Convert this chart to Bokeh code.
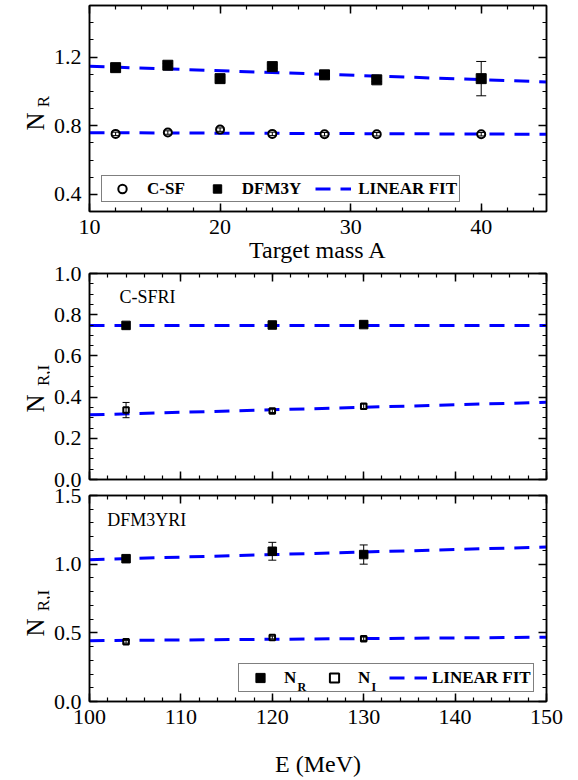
import math

from bokeh.embed import file_html
from bokeh.layouts import column, row
from bokeh.models import (ColumnDataSource, CustomJSTickFormatter, Label, Legend,
                          LegendItem, LinearAxis, NumeralTickFormatter, Range1d,
                          SingleIntervalTicker, TeeHead, Whisker)
from bokeh.plotting import figure
from bokeh.resources import INLINE

# ---- panel 1: real-part normalisation versus target mass ----
mass_a = [12, 16, 20, 24, 28, 32, 40]
csf_nr = [0.752, 0.760, 0.777, 0.752, 0.750, 0.750, 0.750]
csf_err = [0.010, 0.010, 0.010, 0.010, 0.010, 0.010, 0.010]
dfm_nr = [1.138, 1.152, 1.074, 1.144, 1.096, 1.067, 1.074]
dfm_err = [0.010, 0.010, 0.010, 0.010, 0.025, 0.010, 0.100]
fit_a = [10, 45]
fit_csf = [0.759, 0.750]
fit_dfm = [1.146, 1.055]

# ---- panels 2 and 3: N_R and N_I versus beam energy ----
energy = [104, 120, 130]
fit_e = [100, 150]

csfri_nr = [0.748, 0.750, 0.752]
csfri_nr_err = [0.010, 0.010, 0.010]
csfri_ni = [0.337, 0.333, 0.355]
csfri_ni_err = [0.037, 0.008, 0.012]
fit_csfri_nr = [0.748, 0.748]
fit_csfri_ni = [0.314, 0.375]

dfmri_nr = [1.040, 1.094, 1.070]
dfmri_nr_err = [0.020, 0.065, 0.070]
dfmri_ni = [0.435, 0.466, 0.457]
dfmri_ni_err = [0.010, 0.010, 0.012]
fit_dfmri_nr = [1.033, 1.125]
fit_dfmri_ni = [0.443, 0.468]

FONT = "Liberation Serif"
BLUE = "#0000ff"
DASH = "15 10"
TITLE_W = 50          # strip that holds the rotated y titles
FRAME_X0 = 88         # left edge of every plot frame
FRAME_W, FRAME_H = 457, 206
# rotation for the vertical titles (text reads bottom to top)
UPRIGHT = math.pi / 2


def style_axis(ax, interval, minor, labels=True, fmt=None):
    ax.ticker = SingleIntervalTicker(interval=interval, num_minor_ticks=minor)
    ax.axis_line_color = "black"
    ax.axis_line_width = 1.5
    ax.major_tick_in = 8
    ax.major_tick_out = 0
    ax.minor_tick_in = 4
    ax.minor_tick_out = 0
    ax.major_tick_line_width = 1.5
    ax.minor_tick_line_width = 1.2
    ax.major_tick_line_color = "black"
    ax.minor_tick_line_color = "black"
    ax.major_label_text_font = FONT
    ax.major_label_text_color = "black"
    if labels:
        if fmt:
            ax.formatter = NumeralTickFormatter(format=fmt)
        ax.major_label_text_font_size = "22px"
        ax.major_label_standoff = 8
    else:
        ax.formatter = CustomJSTickFormatter(code="return ''")
        ax.major_label_text_font_size = "0px"
        ax.major_label_standoff = 0


def make_panel(xr, yr, xint, xminor, yint, yminor, show_x, top, bottom):
    p = figure(frame_width=FRAME_W, frame_height=FRAME_H,
               x_range=Range1d(*xr), y_range=Range1d(*yr),
               output_backend="svg", toolbar_location=None,
               min_border_left=FRAME_X0 - TITLE_W,
               min_border_right=578 - FRAME_X0 - FRAME_W,
               min_border_top=top, min_border_bottom=bottom)
    p.grid.visible = False
    p.outline_line_color = "black"
    p.outline_line_width = 1.5
    p.background_fill_color = "white"
    p.border_fill_color = "white"
    bottom_ax = p.xaxis[0]
    style_axis(bottom_ax, xint, xminor, labels=show_x)
    style_axis(p.yaxis[0], yint, yminor, labels=True, fmt="0.0")
    top_ax = LinearAxis()
    style_axis(top_ax, xint, xminor, labels=False)
    p.add_layout(top_ax, "above")
    right_ax = LinearAxis()
    style_axis(right_ax, yint, yminor, labels=False)
    p.add_layout(right_ax, "right")
    return p, bottom_ax


def title_strip(p, top, y_main, y_sub, sub):
    """Narrow strip left of a panel carrying the vertical N with its subscript."""
    t = figure(frame_width=TITLE_W, frame_height=FRAME_H,
               x_range=Range1d(0, TITLE_W), y_range=p.y_range,
               output_backend="svg", toolbar_location=None,
               x_axis_location=None, y_axis_location=None,
               min_border_left=0, min_border_right=0,
               min_border_top=top, min_border_bottom=0)
    t.grid.visible = False
    t.outline_line_color = None
    t.background_fill_color = "white"
    t.border_fill_color = "white"
    t.add_layout(Label(x=35, y=y_main, text="N", angle=UPRIGHT,
                       text_align="center", text_baseline="alphabetic",
                       text_font=FONT, text_font_size="25px", text_color="black"))
    t.add_layout(Label(x=43, y=y_sub, text=sub, angle=UPRIGHT,
                       text_align="center", text_baseline="alphabetic",
                       text_font=FONT, text_font_size="17px", text_color="black"))
    return t


def error_bars(p, xs, ys, errs, cap=9):
    src = ColumnDataSource(dict(
        x=xs,
        upper=[y + e for y, e in zip(ys, errs)],
        lower=[y - e for y, e in zip(ys, errs)],
    ))
    w = Whisker(source=src, base="x", upper="upper", lower="lower",
                line_color="black", line_width=1, level="overlay",
                upper_head=TeeHead(size=cap, line_color="black", line_width=1),
                lower_head=TeeHead(size=cap, line_color="black", line_width=1))
    p.add_layout(w)


def style_legend(lg, glyph_w, glyph_h, standoff, spacing, label_w):
    lg.orientation = "horizontal"
    lg.label_text_font = FONT
    lg.label_text_font_style = "bold"
    lg.label_text_font_size = "17px"
    lg.label_text_color = "black"
    lg.glyph_width = glyph_w
    lg.glyph_height = glyph_h
    lg.label_height = glyph_h
    lg.label_width = label_w
    lg.label_standoff = standoff
    lg.spacing = spacing
    lg.padding = 2
    lg.margin = 0
    lg.border_line_color = "black"
    lg.border_line_width = 1
    lg.background_fill_alpha = 0.0


def axis_title(ax, text, size, standoff):
    ax.axis_label = text
    ax.axis_label_text_font = FONT
    ax.axis_label_text_font_size = size
    ax.axis_label_text_font_style = "normal"
    ax.axis_label_text_color = "black"
    ax.axis_label_standoff = standoff


TOP1, TOP2, TOP3 = 5, 8, 8

# ---------------- panel 1 ----------------
p1, bx1 = make_panel((10, 45), (0.3, 1.5), 10, 5, 0.4, 4, True, TOP1, 10)
axis_title(bx1, "Target mass A", "24px", 0)

l_fit1 = p1.line(fit_a, fit_csf, line_color=BLUE, line_width=3, line_dash=DASH)
p1.line(fit_a, fit_dfm, line_color=BLUE, line_width=3, line_dash=DASH)
r_csf = p1.scatter(mass_a, csf_nr, marker="circle", size=8, fill_color="white",
                   line_color="black", line_width=2)
r_dfm = p1.scatter(mass_a, dfm_nr, marker="square", size=10, fill_color="black",
                   line_color="black", line_width=1)
error_bars(p1, mass_a, csf_nr, csf_err, cap=8)
error_bars(p1, mass_a, dfm_nr, dfm_err, cap=10)

lg1 = Legend(items=[LegendItem(label="C-SF", renderers=[r_csf]),
                    LegendItem(label="DFM3Y", renderers=[r_dfm]),
                    LegendItem(label="LINEAR FIT", renderers=[l_fit1])],
             location=(12, 9))
style_legend(lg1, 36, 21, 7, 14, 20)
p1.add_layout(lg1, "center")
t1 = title_strip(p1, TOP1, 0.824, 0.941, "R")

# ---------------- panel 2 ----------------
p2, bx2 = make_panel((100, 150), (0.0, 1.0), 10, 5, 0.2, 4, False, TOP2, 8)
p2.line(fit_e, fit_csfri_nr, line_color=BLUE, line_width=3, line_dash=DASH)
p2.line(fit_e, fit_csfri_ni, line_color=BLUE, line_width=3, line_dash=DASH)
p2.scatter(energy, csfri_nr, marker="square", size=8.5, fill_color="black",
           line_color="black", line_width=1)
p2.scatter(energy, csfri_ni, marker="square", size=5.5, fill_color="white",
           line_color="black", line_width=2)
error_bars(p2, energy, csfri_nr, csfri_nr_err, cap=7)
error_bars(p2, energy, csfri_ni, csfri_ni_err, cap=7)
p2.add_layout(Label(x=103.27, y=0.888, text="C-SFRI", text_align="left",
                    text_baseline="middle", text_font=FONT, text_font_size="18px",
                    text_color="black"))
t2 = title_strip(p2, TOP2, 0.369, 0.505, "R,I")

# ---------------- panel 3 ----------------
p3, bx3 = make_panel((100, 150), (0.0, 1.5), 10, 5, 0.5, 5, True, TOP3, 10)
axis_title(bx3, "E (MeV)", "24px", 24)

l_fit3 = p3.line(fit_e, fit_dfmri_nr, line_color=BLUE, line_width=3, line_dash=DASH)
p3.line(fit_e, fit_dfmri_ni, line_color=BLUE, line_width=3, line_dash=DASH)
r_nr = p3.scatter(energy, dfmri_nr, marker="square", size=8.5, fill_color="black",
                  line_color="black", line_width=1)
r_ni = p3.scatter(energy, dfmri_ni, marker="square", size=5.5, fill_color="white",
                  line_color="black", line_width=2)
error_bars(p3, energy, dfmri_nr, dfmri_nr_err, cap=8)
error_bars(p3, energy, dfmri_ni, dfmri_ni_err, cap=7)
p3.add_layout(Label(x=101.94, y=1.325, text="DFM3YRI", text_align="left",
                    text_baseline="middle", text_font=FONT, text_font_size="18px",
                    text_color="black"))

lg3 = Legend(items=[LegendItem(label="N", renderers=[r_nr]),
                    LegendItem(label="N", renderers=[r_ni]),
                    LegendItem(label="LINEAR FIT", renderers=[l_fit3])],
             location=(149, 9))
style_legend(lg3, 38, 23, 5, 7, 24)
p3.add_layout(lg3, "center")
# subscripts of the two N labels in the legend
p3.text(x=[122.76, 130.85], y=[0.102, 0.102], text=["R", "I"],
        text_align="left", text_baseline="alphabetic",
        text_font={"value": FONT}, text_font_size={"value": "12px"},
        text_font_style="bold", text_color="black")
t3 = title_strip(p3, TOP3, 0.539, 0.735, "R,I")

layout = column(row(t1, p1), row(t2, p2), row(t3, p3), spacing=0)

with open("out.html", "w") as f:
    f.write(file_html(layout, INLINE))
